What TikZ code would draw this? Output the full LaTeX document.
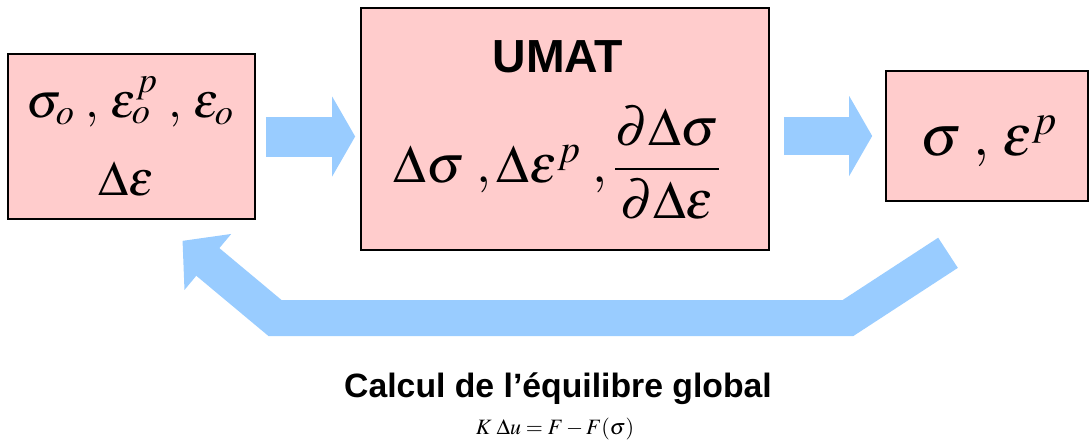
\documentclass[tikz,border=0pt]{standalone}
\usepackage{amsmath}
\usepackage{mathptmx}
\usepackage[no-math]{fontspec}
\newfontfamily\arialfont{Liberation Sans}
\usetikzlibrary{arrows.meta,calc}
\definecolor{boxpink}{RGB}{255,204,204}
\definecolor{arrblue}{RGB}{153,204,255}

\begin{document}
\begin{tikzpicture}[
    x=0.025cm,y=-0.025cm,
    box/.style={draw=black,line width=1.1pt,fill=boxpink},
    eqn/.style={anchor=base,inner sep=0pt,font=\fontsize{35}{40}\selectfont},
    ttl/.style={anchor=base,inner sep=0pt,font=\arialfont\bfseries\fontsize{33}{38}\selectfont},
    blockarr/.style={draw=arrblue,line width=1cm,-{Triangle[length=0.575cm,width=1.975cm]}},
    retarr/.style={draw=arrblue,line width=0.9cm,line join=miter,-{Triangle[length=0.825cm,width=1.775cm]}}
  ]
  \useasboundingbox (0,0) rectangle (1091,443);

  \node[box,minimum width=6.175cm,minimum height=4.125cm] (inbox) at (131.5,136.5) {};
  \node[box,minimum width=10.2cm,minimum height=6.05cm] (umat) at (565,129) {};
  \node[box,minimum width=5.05cm,minimum height=3.25cm] (outbox) at (987,136) {};

  \node[eqn] (inval) at (130,117) {$\sigma_o\;,\,\varepsilon^p_o\;,\,\varepsilon_o$};
  \node[eqn] (deps) at (126,195) {$\Delta\varepsilon$};
  \node[ttl] (umattitle) at (558,72) {UMAT};
  \node[eqn,font=\fontsize{38}{44}\selectfont] (umatout) at (557,182)
    {$\Delta\sigma\;,\Delta\varepsilon^p\;,\dfrac{\partial\Delta\sigma}{\partial\Delta\varepsilon}$};
  \node[eqn,font=\fontsize{41}{47}\selectfont] (outval) at (989,155) {$\sigma\;,\,\varepsilon^p$};

  \node[anchor=base,font=\arialfont\bfseries\fontsize{24}{29}\selectfont] (eqtitle) at (558,397)
    {Calcul de l’équilibre global};
  \node[anchor=base,font=\fontsize{15.6}{19}\selectfont] (eqlaw) at (555,434) {$K\;\Delta u = F - F(\sigma)$};

  % block arrows
  \draw[blockarr,shorten <=0.25cm,shorten >=0.125cm] (inbox.east) -- (inbox.east -| umat.west);
  \draw[blockarr,line width=0.95cm,shorten <=0.35cm,shorten >=0.325cm,yshift=-2*0.025cm]
    (umat.east |- outbox.west) -- (outbox.west);

  % return loop
  \coordinate (retstart) at ($(outbox.south)+(-39,51)$);
  \coordinate (retright) at (848,318);
  \coordinate (retleft) at (275,318);
  \coordinate (retend) at ($(inbox.south)+(51,21)$);
  \draw[retarr] (retstart) -- (retright) -- (retleft) -- (retend);
\end{tikzpicture}
\end{document}
